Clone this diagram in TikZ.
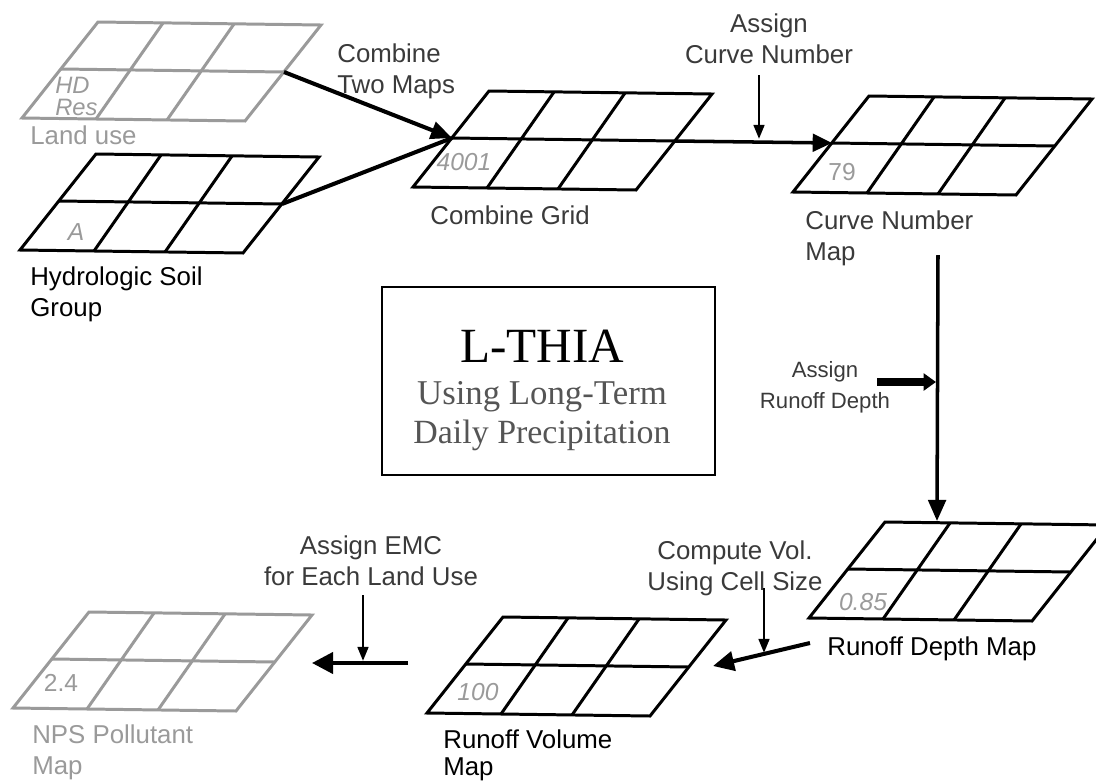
\documentclass[tikz,border=0pt]{standalone}
\usepackage{fontspec}
\setmainfont{Liberation Sans}
\newfontfamily\titlefont{Liberation Serif}
\usetikzlibrary{arrows.meta}
\definecolor{lblgray}{HTML}{3A3A3A}
\definecolor{ltgray}{HTML}{9A9A9A}
\definecolor{boxgray}{HTML}{555555}
\tikzset{
  gridline/.style={line width=1.7pt, line join=miter},
  lbl/.style={inner sep=0pt, font=\fontsize{14.7}{18}\selectfont, text=lblgray},
  val/.style={inner sep=0pt, font=\fontsize{14}{16}\selectfont\itshape, text=ltgray},
  uval/.style={inner sep=0pt, font=\fontsize{14}{16}\selectfont, text=ltgray},
  bigarrow/.style={line width=2.3pt, -{Triangle[length=11pt,width=10pt]}},
  thinarrow/.style={line width=1.6pt, -{Triangle[length=8pt,width=6pt]}},
}
\newcommand\gridmap[4]{%
  \begin{scope}[shift={(#2,#3)}]
    \coordinate (#1-bl) at (0,0);
    \draw[gridline,#4] (0,0) -- (223,3) -- (299,-93) -- (76,-96) -- cycle;
    \draw[gridline,#4] (39,-49) coordinate (#1-ml) -- (262,-46) coordinate (#1-mr);
    \draw[gridline,#4] (74,1) -- (141,-95);
    \draw[gridline,#4] (145,2) -- (212,-94);
  \end{scope}}

\begin{document}
\begin{tikzpicture}[x=0.02cm,y=-0.02cm]
\useasboundingbox (0,0) rectangle (1096,782);

% grids
\gridmap{lu}{22}{118}{ltgray}
\gridmap{hs}{20}{250}{black}
\gridmap{cg}{413}{187}{black}
\gridmap{cn}{793}{192}{black}
\begin{scope}
  \clip (0,0) rectangle (1096,782);
  \gridmap{rd}{809}{618}{black}
\end{scope}
\gridmap{rv}{427}{713}{black}
\gridmap{np}{13}{708}{ltgray}

% cell values
\node[val, anchor=north west, align=left, font=\fontsize{13.5}{12.3}\selectfont\itshape] (lu-val) at ([shift={(33,-41)}]lu-bl) {HD\\Res.};
\node[val] (hs-val) at ([shift={(56,-18)}]hs-bl) {A};
\node[val] (cg-val) at ([shift={(51,-25)}]cg-bl) {4001};
\node[uval] (cn-val) at ([shift={(49,-20)}]cn-bl) {79};
\node[val] (rd-val) at ([shift={(54,-16)}]rd-bl) {0.85};
\node[val] (rv-val) at ([shift={(51,-21)}]rv-bl) {100};
\node[uval] (np-val) at ([shift={(48,-25)}]np-bl) {2.4};

% map labels
\node[lbl, anchor=north west, text=ltgray] (lu-lbl) at (30,125) {Land use};
\node[lbl, anchor=north west, align=left, text=black] (hs-lbl) at (30,266) {Hydrologic Soil\\Group};
\node[lbl, anchor=north west] (cg-lbl) at (430,205) {Combine Grid};
\node[lbl, anchor=north west, align=left] (cn-lbl) at (805,210) {Curve Number\\Map};
\node[lbl, anchor=north west, text=black] (rd-lbl) at (827,636) {Runoff Depth Map};
\node[lbl, anchor=north west, align=left, text=black, font=\fontsize{14.7}{15.6}\selectfont] (rv-lbl) at (443,729) {Runoff Volume\\Map};
\node[lbl, anchor=north west, align=left, text=ltgray] (np-lbl) at (32,724) {NPS Pollutant\\Map};

% process labels
\node[lbl, anchor=north west, align=left] (step1) at (337,43) {Combine\\Two Maps};
\node[lbl, anchor=north, align=center] (step2) at (769,13) {Assign\\Curve Number};
\node[lbl, anchor=north, align=center, font=\fontsize{12.6}{17.6}\selectfont] (step3) at (825,361) {Assign\\Runoff Depth};
\node[lbl, anchor=north, align=center] (step4) at (735,540) {Compute Vol.\\Using Cell Size};
\node[lbl, anchor=north, align=center] (step5) at (371,535) {Assign EMC\\for Each Land Use};

% title box
\node[draw, line width=1.4pt, minimum width=333*0.02cm, minimum height=188*0.02cm, inner sep=0pt] (box) at (548.5,381) {};
\node[anchor=base, inner sep=0pt, font=\titlefont\fontsize{28}{30}\selectfont] (t1) at (542,362) {L-THIA};
\node[anchor=base, inner sep=0pt, text=boxgray, font=\titlefont\fontsize{19.8}{22}\selectfont] (t2) at (542,404) {Using Long-Term};
\node[anchor=base, inner sep=0pt, text=boxgray, font=\titlefont\fontsize{19.3}{22}\selectfont] (t3) at (542,443) {Daily Precipitation};

% connector coordinates
\coordinate (cn-out) at (938,255);
\coordinate (rd-in) at (937,521);
\coordinate (rd-out) at (810,643);
\coordinate (rv-in) at (713,666);
\coordinate (rv-out) at (408,663);
\coordinate (np-in) at (312,663);
\coordinate (s2-top) at (759,75);
\coordinate (s2-hit) at (759,139);
\coordinate (s3-start) at (877,382);
\coordinate (s3-hit) at (936,382);
\coordinate (s4-top) at (764,588);
\coordinate (s4-hit) at (764,653);
\coordinate (s5-top) at (363,595);
\coordinate (s5-hit) at (363,661);

% main flow
\draw[line width=2.3pt] (hs-mr) -- (cg-ml);
\draw[line width=2.3pt, -{Triangle[length=12pt,width=10pt]}] (lu-mr) -- (cg-ml);
\draw[line width=2pt, -{Triangle[length=11pt,width=10pt]}] (cg-mr) -- (cn-ml);
\draw[line width=2pt, -{Triangle[length=12pt,width=10pt]}] (cn-out) -- (rd-in);
\draw[bigarrow, -{Triangle[length=12pt,width=11pt]}] (rd-out) -- (rv-in);
\draw[bigarrow, -{Triangle[length=12pt,width=12pt]}] (rv-out) -- (np-in);

% step arrows
\draw[thinarrow] (s2-top) -- (s2-hit);
\draw[line width=4.5pt, -{Triangle[length=7pt,width=9.5pt]}] (s3-start) -- (s3-hit);
\draw[thinarrow] (s4-top) -- (s4-hit);
\draw[thinarrow] (s5-top) -- (s5-hit);
\end{tikzpicture}
\end{document}
